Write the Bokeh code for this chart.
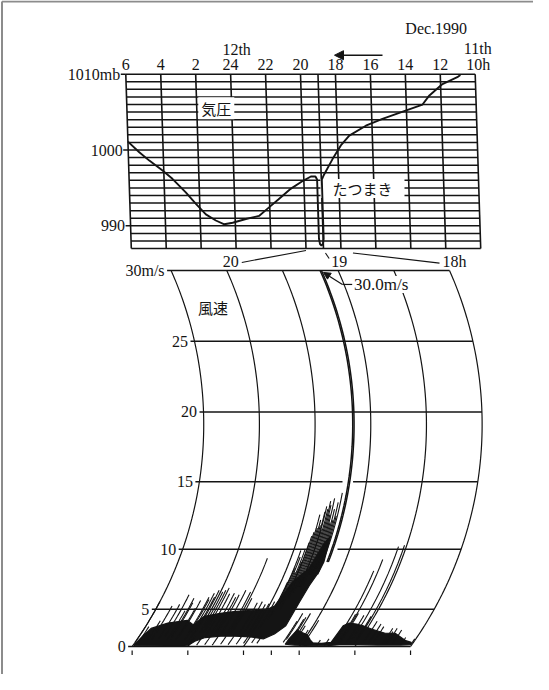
import numpy as np
from bokeh.plotting import figure
from bokeh.models import Range1d, Arrow, NormalHead
from bokeh.core.properties import value
from bokeh.embed import file_html
from bokeh.resources import INLINE

# ------------------------------------------------------------------ data
# time = hours counted from 0h of Dec 11 1990 (so 2h of the 12th = 26)
baro_hours = [30, 28, 26, 24, 22, 20, 18, 16, 14, 12, 10]
baro_hour_labels = ["6", "4", "2", "24", "22", "20", "18", "16", "14", "12", "10h"]
baro_time_mark = 19.0
pressure_ticks = [1010, 1000, 990]
pressure_tick_labels = ["1010mb", "1000", "990"]
pressure_grid = list(range(987, 1011))

pressure_time = [30.0, 29.37, 28.81, 28.07, 27.52, 26.78, 26.22, 25.67, 25.11,
                 24.63, 24.15, 23.39, 22.63, 22.06, 21.48, 20.82, 20.07, 19.59,
                 19.33, 19.24, 19.24, 19.19, 19.11, 19.02, 18.97, 18.97, 18.87,
                 18.32, 17.82, 17.32, 16.35, 15.39, 14.05, 13.07, 12.66, 11.89,
                 11.03, 10.85]
pressure_mb = [1001.1, 999.7, 998.6, 997.3, 996.2, 994.4, 992.9, 991.5, 990.7,
               990.2, 990.4, 990.9, 991.3, 992.4, 993.5, 994.8, 995.9, 996.5,
               996.5, 996.1, 988.3, 987.6, 987.4, 987.6, 988.3, 996.1, 996.6,
               998.8, 1000.6, 1001.9, 1003.2, 1004.1, 1005.2, 1006.0, 1007.2,
               1008.7, 1009.6, 1009.9]

wind_arc_times = [20.5, 20.0, 19.5, 19.0, 18.5, 18.0]
wind_hour_times = [20.0, 19.0, 18.0]
wind_hour_labels = ["20", "19", "18h"]
wind_base_ticks = [20.5, 20.0, 19.5, 19.25, 19.0, 18.5, 18.0]
speed_ticks = [0, 5, 10, 15, 20, 25, 30]
speed_tick_labels = ["0", "5", "10", "15", "20", "25", "30m/s"]

# dense black band of the anemometer trace (upper edge, then lower edge)
band1_upper_t = [20.49, 20.47, 20.44, 20.32, 20.16, 20.08, 20.03, 19.90, 19.77,
                 19.63, 19.50, 19.45, 19.395, 19.30, 19.25, 19.21]
band1_upper_v = [0.8, 2.0, 3.0, 3.6, 3.9, 3.4, 4.3, 4.6, 4.8,
                 4.9, 5.0, 5.3, 7.4, 8.5, 10.4, 11.0]
band1_lower_t = [19.19, 19.20, 19.23, 19.245, 19.245, 19.30, 19.37, 19.50, 19.64,
                 19.77, 19.90, 19.97, 20.00, 20.04, 20.19, 20.47, 20.49]
band1_lower_v = [9.0, 8.2, 7.1, 5.6, 3.3, 2.3, 1.6, 1.9, 2.0,
                 2.0, 1.8, 1.2, 0.4, 0.3, 0.3, 0.2, 0.3]

band2_upper_t = [19.14, 19.12, 19.06, 19.00, 18.94, 18.90, 18.82, 18.74, 18.73,
                 18.69, 18.62, 18.55, 18.45, 18.31, 18.22, 18.08, 18.02]
band2_upper_v = [1.5, 2.8, 2.5, 2.2, 1.4, 0.9, 0.8, 1.0, 3.3,
                 3.6, 3.5, 3.3, 2.9, 2.4, 2.4, 1.3, 1.0]
band2_lower_t = [18.01, 18.10, 18.30, 18.50, 18.65, 18.75, 18.85, 18.95, 19.05, 19.14]
band2_lower_v = [0.5, 0.4, 0.4, 0.5, 0.5, 0.25, 0.2, 0.3, 0.4, 0.6]

# single gust strokes of the pen (time, from speed, to speed)
spike_t = [20.50, 20.47, 20.40, 20.37, 20.31, 20.27, 20.23, 20.21, 20.20, 20.15,
           20.14, 20.08, 20.07, 20.05, 20.03, 20.02, 19.98, 19.96, 19.94, 19.91,
           19.87, 19.84, 19.82, 19.78, 19.73, 19.71, 19.69, 19.62, 19.58, 19.54,
           19.51, 19.47,
           20.00, 19.93, 19.86, 19.79, 19.72, 19.65, 19.58, 19.52, 19.45, 19.40,
           19.44, 19.435, 19.41, 19.385, 19.37, 19.36, 19.33, 19.315, 19.29,
           19.28, 19.25, 19.20,
           19.43, 19.42, 19.40, 19.39, 19.38, 19.35, 19.34, 19.32, 19.31, 19.30,
           19.27, 19.26, 19.24, 19.23, 19.22, 19.21,
           19.17, 19.16, 19.12, 19.11, 19.09, 19.07, 19.02, 18.98, 18.85, 18.78,
           18.72, 18.71, 18.68, 18.67, 18.66, 18.60, 18.57, 18.53, 18.52, 18.45,
           18.40, 18.36, 18.27, 18.25, 18.23, 18.18, 18.10, 18.01]
spike_lo = [1.0, 1.0, 1.5, 1.5, 1.5, 2.0, 1.5, 2.0, 1.5, 1.5,
            2.0, 2.5, 1.5, 2.5, 1.5, 2.5, 2.5, 2.5, 2.5, 2.0,
            2.5, 2.0, 2.5, 2.5, 2.5, 2.5, 2.5, 2.5, 2.5, 2.5,
            2.5, 3.0,
            0.3, 0.4, 0.5, 0.4, 0.6, 0.5, 0.6, 0.8, 0.9, 0.8,
            4.0, 5.0, 5.0, 5.0, 6.0, 6.0, 7.0, 7.0, 7.0,
            8.0, 8.0, 8.0,
            4.5, 5.0, 5.5, 5.5, 6.0, 6.5, 6.5, 7.0, 7.0, 7.5,
            8.0, 8.0, 8.5, 8.5, 8.5, 9.0,
            1.0, 1.5, 1.0, 1.0, 1.0, 1.0, 0.8, 0.5, 0.3, 0.3,
            0.5, 1.0, 1.0, 1.0, 1.0, 1.0, 1.0, 1.0, 1.0, 1.0,
            1.0, 1.0, 0.8, 0.8, 0.8, 0.8, 0.5, 0.5]
spike_hi = [5.7, 3.2, 3.85, 5.3, 5.45, 6.3, 4.85, 6.0, 5.6, 5.1,
            5.8, 6.1, 5.9, 6.45, 6.1, 6.7, 6.55, 6.7, 6.9, 6.4,
            6.45, 6.1, 6.3, 6.7, 6.55, 9.3, 6.0, 5.6, 5.7, 5.45,
            5.5, 5.7,
            2.0, 2.0, 2.0, 2.0, 2.0, 2.0, 2.0, 2.0, 2.0, 2.0,
            7.4, 9.9, 8.2, 10.5, 11.3, 12.6, 11.8, 13.2, 13.6,
            13.3, 12.0, 14.2,
            8.5, 9.4, 10.0, 9.0, 11.0, 11.6, 12.2, 12.8, 11.5, 13.0,
            12.6, 13.8, 13.0, 12.2, 13.5, 12.5,
            3.8, 4.6, 4.0, 4.2, 4.6, 3.3, 2.8, 3.9, 1.4, 1.6,
            3.3, 8.3, 4.5, 9.2, 4.6, 4.4, 10.2, 4.3, 10.3, 3.8,
            3.5, 3.2, 3.0, 2.6, 3.0, 2.8, 1.8, 1.6]

gust_t = 19.15
gust_base = 9.0
gust_peak = 30.0

# ------------------------------------------------------------- geometry
W, H = 533, 674
M = 8  # page margin

# barograph sheet (reference page pixels of two time and two pressure lines)
B_T0, B_X0, B_T1, B_X1 = 30.0, 133.3, 10.0, 482.7
B_P0, B_Y0, B_P1, B_Y1 = 1010.0, 81.7, 990.0, 233.3
B_DRIFT = 5.5 / 23.0            # px of pen-arc drift per mb
# anemograph sheet
A_T0, A_X0, A_T1, A_X1 = 20.5, 178.6, 18.0, 457.0
A_Y0 = 654.0                    # 0 m/s line
ARC_R, ARC_C = 380.0, 222.0     # pen arm radius / arc centre height


def lin(v0, p0, v1, p1, p):
    return v0 + (p - p0) * (v1 - v0) / (p1 - p0)


b_pph = (B_X1 - B_X0) / (B_T0 - B_T1)
b_ppm = (B_Y1 - B_Y0) / (B_P0 - B_P1)
a_pph = (A_X1 - A_X0) / (A_T0 - A_T1)


def baro_x(t, p):
    return np.asarray(t, float) - B_DRIFT * (1010.0 - np.asarray(p, float)) / b_pph


def wind_h(v):
    v = np.asarray(v, float)
    return 14.2 * v - 50.0 * (1.0 - np.exp(-v / 4.46))


H30 = float(wind_h(30))


def arc_off(h):
    return np.sqrt(ARC_R ** 2 - (ARC_C - h) ** 2) - np.sqrt(ARC_R ** 2 - (ARC_C - H30) ** 2)


def wind_xy(t, v):
    h = wind_h(v)
    return np.asarray(t, float) - arc_off(h) / a_pph, h


def bdx(px):
    return -px / b_pph


def bdy(px):
    return -px / b_ppm


def adx(px):
    return -px / a_pph


def bpt(X, Y):
    return lin(B_T0, B_X0, B_T1, B_X1, X), lin(B_P0, B_Y0, B_P1, B_Y1, Y)


def a_to_page(x, h):
    return A_X0 + (x - A_T0) * (A_X1 - A_X0) / (A_T1 - A_T0), A_Y0 - h


def b_to_page(x, p):
    return (B_X0 + (x - B_T0) * (B_X1 - B_X0) / (B_T1 - B_T0),
            B_Y0 + (p - B_P0) * (B_Y1 - B_Y0) / (B_P1 - B_P0))


INK = "#141414"
SERIF = value("Liberation Serif")
JP = value("Noto Sans CJK JP")

p = figure(width=W, height=H, output_backend="svg", toolbar_location=None,
           x_range=Range1d(lin(B_T0, B_X0, B_T1, B_X1, M), lin(B_T0, B_X0, B_T1, B_X1, M + W)),
           y_range=Range1d(lin(B_P0, B_Y0, B_P1, B_Y1, M + H), lin(B_P0, B_Y0, B_P1, B_Y1, M)),
           x_axis_type=None, y_axis_type=None, min_border=0)
p.extra_x_ranges = {"ax": Range1d(lin(A_T0, A_X0, A_T1, A_X1, M), lin(A_T0, A_X0, A_T1, A_X1, M + W))}
p.extra_y_ranges = {"ay": Range1d(A_Y0 - (M + H), A_Y0 - M)}
p.grid.visible = False
p.outline_line_color = None
p.background_fill_color = "white"
p.border_fill_color = "white"
A = dict(x_range_name="ax", y_range_name="ay")

# scanned page frame (left and top edges)
fx0, fy0 = bpt(9.5, 9.0)
fx1, fy1 = bpt(548.0, 690.0)
p.multi_line([[fx0, fx0], [fx0, fx1]], [[fy1, fy0], [fy0, fy0]],
             line_color="#8c8c8c", line_width=2)

# ------------------------------------------------------------ barograph
p.multi_line([[float(baro_x(30, q)), float(baro_x(10, q))] for q in pressure_grid],
             [[q, q] for q in pressure_grid], line_color=INK, line_width=1.5)
vt = baro_hours + [baro_time_mark]
p.multi_line([[float(baro_x(t, 1010)), float(baro_x(t, 987))] for t in vt],
             [[1010, 987] for t in vt], line_color=INK, line_width=1.6)

# white boxes behind in-chart labels
gx, gy = bpt(223.8, 115.8)
tx_, ty_ = bpt(370.0, 196.0)
p.rect([gx, tx_], [gy, ty_], width=[36, 84], height=[22, 19], width_units="screen",
       height_units="screen", fill_color="white", line_color=None)
p.text([gx], [gy], text=["気圧"], text_font=JP, text_font_size="15px",
       text_align="center", text_baseline="middle", text_color=INK)
p.text([tx_], [ty_], text=["たつまき"], text_font=JP, text_font_size="15px",
       text_align="center", text_baseline="middle", text_color=INK)

p.line(baro_x(pressure_time, pressure_mb), pressure_mb, line_color=INK, line_width=1.9)

# pressure scale
lx = [float(baro_x(30, q)) for q in pressure_ticks]
p.multi_line([[x + bdx(-5), x] for x in lx], [[q, q] for q in pressure_ticks],
             line_color=INK, line_width=1.5)
p.text([x + bdx(-5.5) for x in lx], pressure_ticks, text=pressure_tick_labels,
       text_font=SERIF, text_font_size="16px", text_align="right",
       text_baseline="middle", text_color=INK)
# hour scale
hx = [float(baro_x(t, 1010)) + (bdx(3) if lab.endswith("h") else 0.0)
      for t, lab in zip(baro_hours, baro_hour_labels)]
p.text(hx, [1010 + bdy(-9.5)] * len(hx), text=baro_hour_labels, text_font=SERIF,
       text_font_size="16px", text_align="center", text_baseline="middle", text_color=INK)
p.text([float(baro_x(24, 1010)) + bdx(6), float(baro_x(10, 1010)) + bdx(2.5),
        float(baro_x(10, 1010)) + bdx(-39)],
       [1010 + bdy(-25), 1010 + bdy(-25.5), 1010 + bdy(-45.5)],
       text=["12th", "11th", "Dec.1990"], text_font=SERIF, text_font_size="16px",
       text_align="center", text_baseline="middle", text_color=INK)
ax0, ay0 = bpt(390, 62.7)
ax1, ay1 = bpt(342, 62.7)
p.add_layout(Arrow(x_start=ax0, y_start=ay0, x_end=ax1, y_end=ay1, line_width=1.6,
                   line_color=INK, end=NormalHead(size=9, fill_color=INK, line_color=INK)))

# ------------------------------------------------------------ anemograph
vv = np.linspace(0, 30, 91)
arcs = [wind_xy(t, vv) for t in wind_arc_times]
p.multi_line([list(a[0]) for a in arcs], [list(a[1]) for a in arcs],
             line_color=INK, line_width=1.2, **A)

gaps = {10: (19.36, 19.11), 15: (19.215, 19.12)}
hxs, hys = [], []
for v in speed_ticks:
    xl = float(wind_xy(20.5, v)[0]) + adx(-4)
    xr = float(wind_xy(18.0, v)[0])
    hv = float(wind_h(v))
    if v in gaps:
        g0, g1 = gaps[v]
        hxs += [[xl, float(wind_xy(g0, v)[0])], [float(wind_xy(g1, v)[0]), xr]]
        hys += [[hv, hv], [hv, hv]]
    else:
        hxs.append([xl, xr])
        hys.append([hv, hv])
p.multi_line(hxs, hys, line_color=INK, line_width=1.4, **A)

p.text([float(wind_xy(20.5, v)[0]) + adx(-6.5) for v in speed_ticks],
       [float(wind_h(v)) for v in speed_ticks], text=speed_tick_labels,
       text_font=SERIF, text_font_size="16px", text_align="right",
       text_baseline="middle", text_color=INK, **A)

bt = [float(wind_xy(t, 0)[0]) for t in wind_base_ticks]
p.multi_line([[x, x] for x in bt], [[-4, -8.5] for x in bt], line_color=INK,
             line_width=1.2, **A)

# dense trace
for ut, uv, lt, lv in [(band1_upper_t, band1_upper_v, band1_lower_t, band1_lower_v),
                       (band2_upper_t, band2_upper_v, band2_lower_t, band2_lower_v)]:
    xs_, hs_ = wind_xy(list(ut) + list(lt), list(uv) + list(lv))
    p.patch(list(xs_), list(hs_), fill_color=INK, line_color=INK, line_width=1.2, **A)

sx, sy = [], []
for t, lo, hi in zip(spike_t, spike_lo, spike_hi):
    x_, h_ = wind_xy(t, np.linspace(lo, hi, 14))
    sx.append(list(x_))
    sy.append(list(h_))
p.multi_line(sx, sy, line_color=INK, line_width=1.1, **A)

gv = np.linspace(gust_base, gust_peak, 60)
g1x, g1h = wind_xy(gust_t, gv)
g2x, g2h = wind_xy(gust_t + 0.012, gv)
p.multi_line([list(g1x), list(g2x)], [list(g1h), list(g2h)], line_color=INK,
             line_width=1.5, **A)

# 30.0 m/s annotation
tipx, tiph = wind_xy(gust_t, gust_peak)
tipx, tiph = float(tipx), float(tiph)
elx, elh = tipx + adx(21), tiph - 14
enx = elx + adx(10)
p.add_layout(Arrow(x_start=elx, y_start=elh, x_end=tipx + adx(2), y_end=tiph - 2,
                   line_width=1.2, line_color=INK,
                   end=NormalHead(size=7, fill_color=INK, line_color=INK), **A))
p.line([elx, enx], [elh, elh], line_color=INK, line_width=1.2, **A)
p.rect([enx + adx(35)], [elh], width=[70], height=[17], width_units="screen",
       height_units="screen", fill_color="white", line_color=None, **A)
p.text([enx + adx(1.5)], [elh], text=["30.0m/s"], text_font=SERIF,
       text_font_size="17px", text_align="left", text_baseline="middle",
       text_color=INK, **A)

# speed title
p.text([lin(A_T0, A_X0, A_T1, A_X1, 220.5)], [A_Y0 - 315.0], text=["風速"],
       text_font=JP, text_font_size="15px", text_align="center",
       text_baseline="middle", text_color=INK, **A)

# hour labels of the wind sheet and their links to the pressure sheet
lab_dx = [4.0, 1.0, 5.0]
lab_pos = []
for t, dx in zip(wind_hour_times, lab_dx):
    lab_pos.append((float(wind_xy(t, 30)[0]) + adx(dx), H30 + 9.0))
p.text([q[0] for q in lab_pos], [q[1] for q in lab_pos], text=wind_hour_labels,
       text_font=SERIF, text_font_size="16px", text_align="center",
       text_baseline="middle", text_color=INK, **A)

link_off = [((0.0, 2.0), (11.0, 1.0)), ((2.0, 4.5), (-10.0, -3.0)), ((12.0, 4.4), (-15.0, 1.7))]
lxs, lys = [], []
for t, (lxh, lhh), (bo, lo) in zip(wind_hour_times, lab_pos, link_off):
    BX, BY = b_to_page(float(baro_x(t, 987)), 987.0)
    LX, LY = a_to_page(lxh, lhh)
    x0, y0 = bpt(BX + bo[0], BY + bo[1])
    x1, y1 = bpt(LX + lo[0], LY + lo[1])
    lxs.append([x0, x1])
    lys.append([y0, y1])
p.multi_line(lxs, lys, line_color=INK, line_width=1.1)

open("out.html", "w").write(file_html(p, INLINE))
